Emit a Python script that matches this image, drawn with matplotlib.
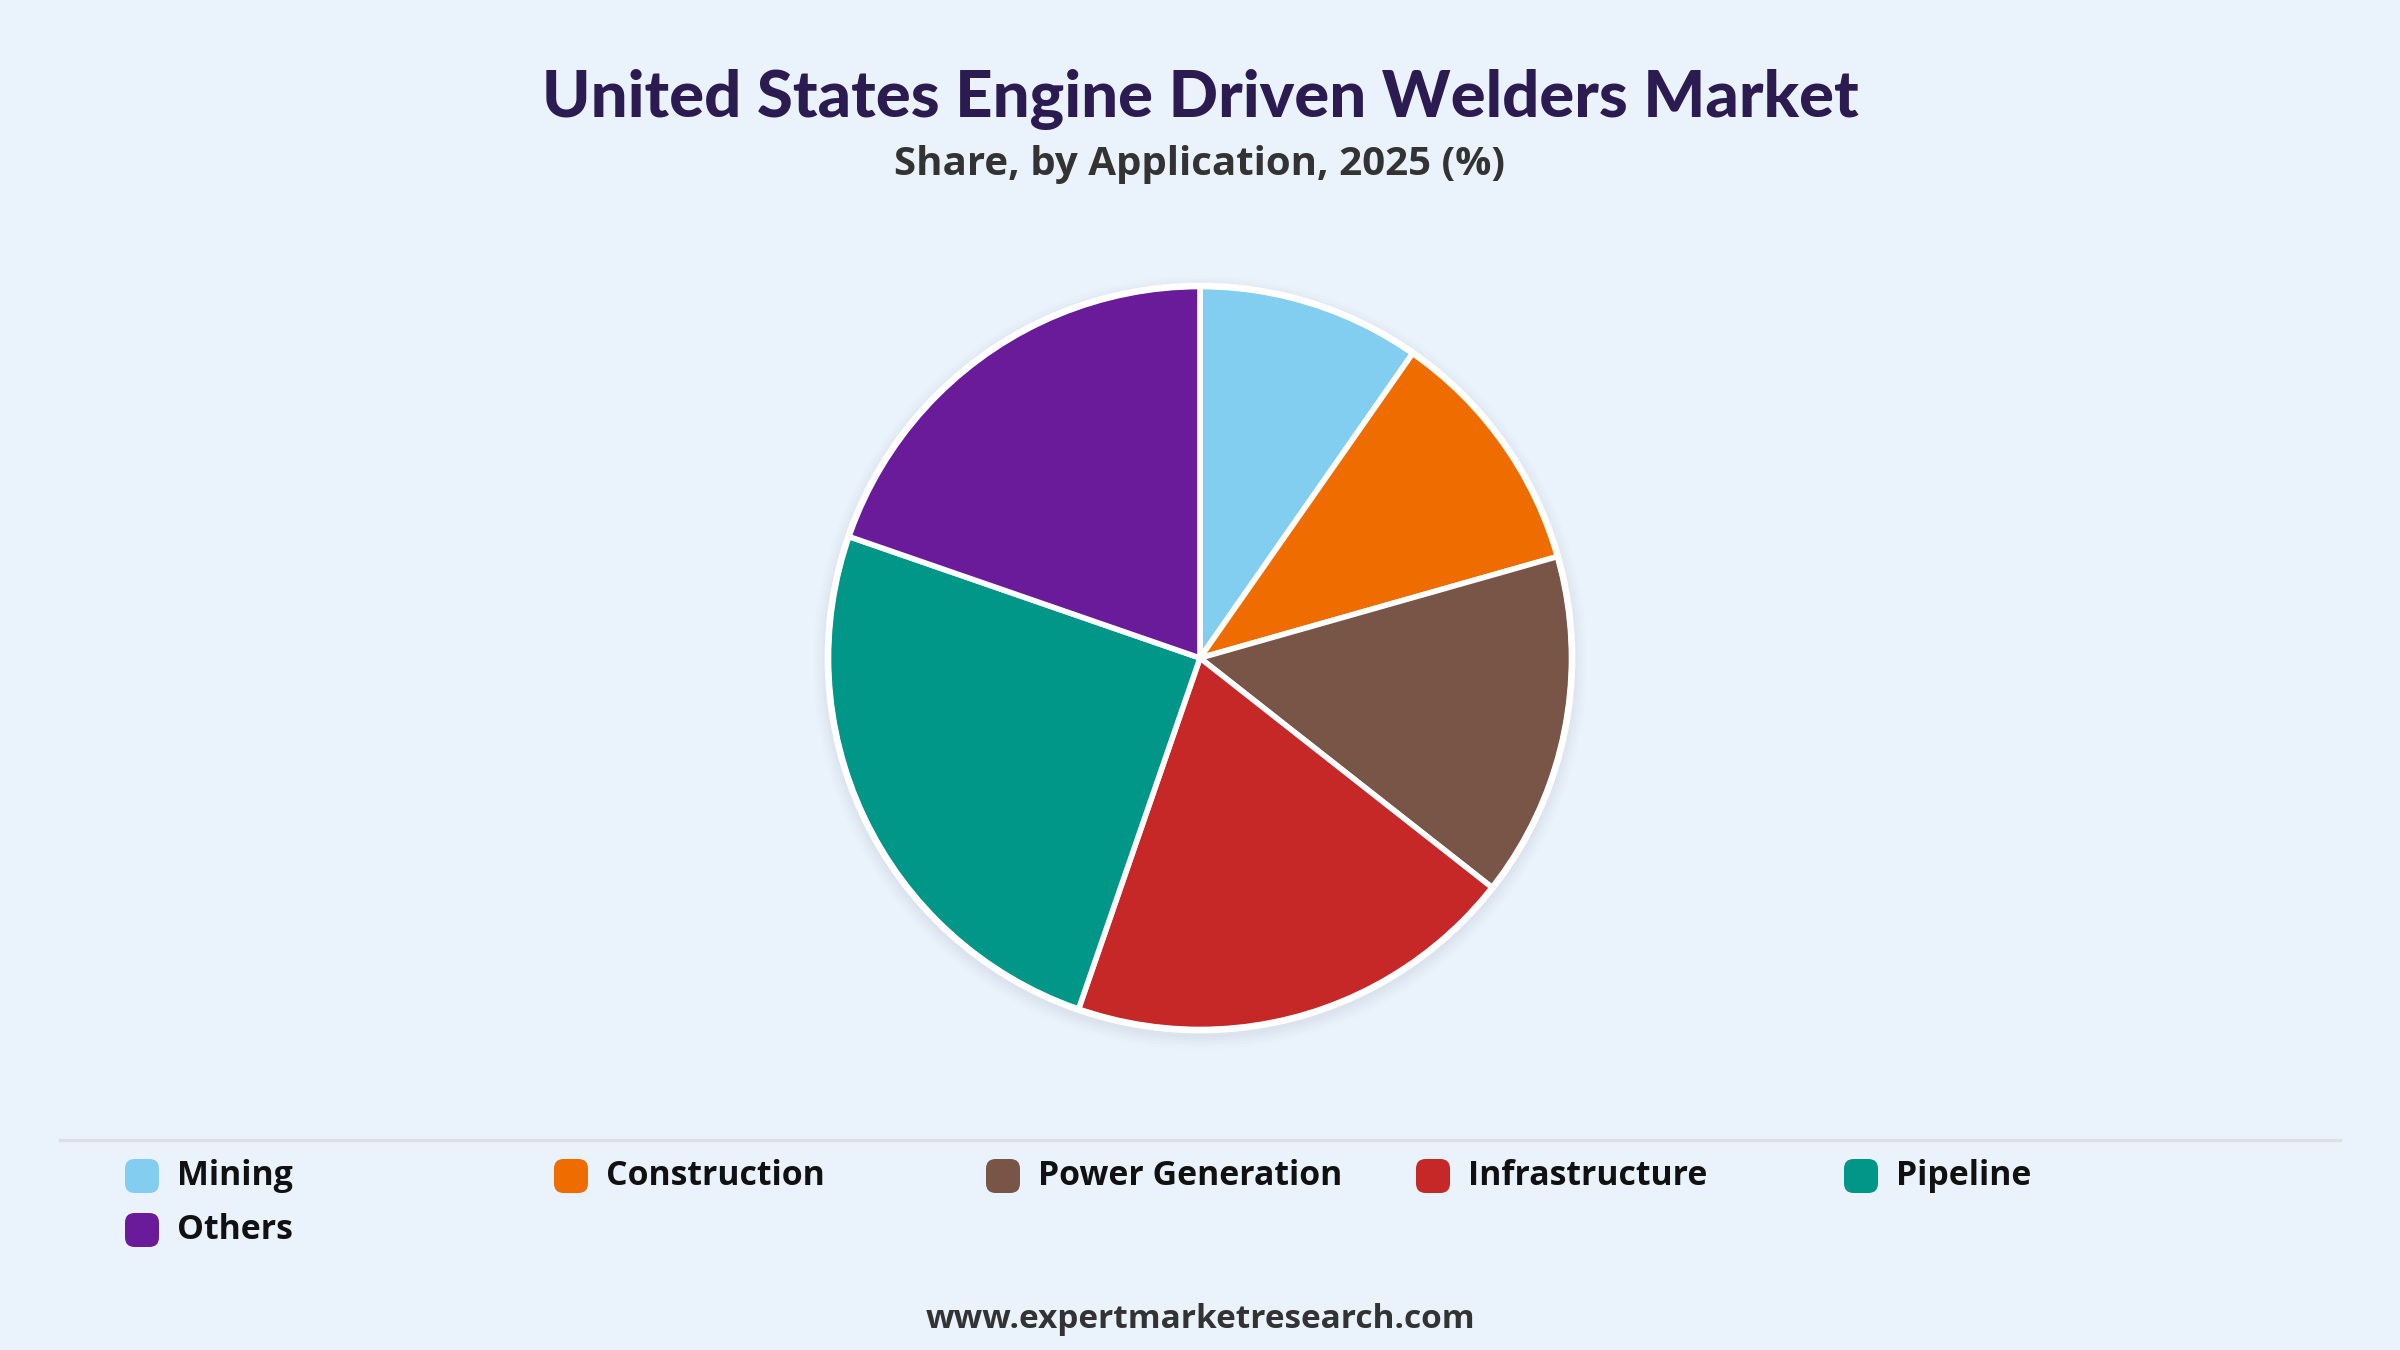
import matplotlib
matplotlib.use("Agg")
import matplotlib.pyplot as plt
from matplotlib.patches import FancyBboxPatch, Circle

plt.rcParams['font.family'] = ['Open Sans', 'DejaVu Sans']

# data (share, %)
categories = ['Mining', 'Construction', 'Power Generation', 'Infrastructure', 'Pipeline', 'Others']
shares = [9.7, 10.9, 15.0, 19.7, 25.0, 19.7]
colors = ['#81cef1', '#ef6c00', '#795548', '#c62828', '#009688', '#6a1b9a']

title = 'United States Engine Driven Welders Market'
subtitle = 'Share, by Application, 2025 (%)'
footer = 'www.expertmarketresearch.com'

bg = '#eaf2fb'
W, H = 2400, 1350
fig = plt.figure(figsize=(12, 6.75), dpi=200, facecolor=bg)

# pie axes: centre (1200, 658) px, radius 372 px
cx, cy, r = 1200, 658, 372
lim = 1.15
side = 2 * r * lim
ax = fig.add_axes([(cx - side / 2) / W, 1 - (cy + side / 2) / H, side / W, side / H])
ax.set_facecolor('none')

# soft shadow behind the pie
for i, a in enumerate([0.035, 0.03, 0.025, 0.02, 0.015]):
    ax.add_patch(Circle((0.0, -0.012), 1.0 + 0.008 * (i + 1), color='#7a8aa0', alpha=a, lw=0, zorder=0))

wedges, _ = ax.pie(shares, colors=colors, startangle=90, counterclock=False,
                   radius=1.0, wedgeprops=dict(edgecolor='white', linewidth=2.0))
for w in wedges:
    w.set_zorder(2)
ax.add_patch(Circle((0, 0), 1.0, fill=False, edgecolor='white', lw=2.4, zorder=3))
ax.set_xlim(-lim, lim)
ax.set_ylim(-lim, lim)
ax.set_aspect('equal')
ax.axis('off')

fig.text(0.5, 1 - 99 / H, title, ha='center', va='center', fontsize=23.5,
         fontweight='black', color='#2b1b50', family=['Lato', 'DejaVu Sans'])
fig.text(0.5, 1 - 164 / H, subtitle, ha='center', va='center', fontsize=14.5,
         fontweight='bold', color='#333333')

# separator line above the legend
fig.add_artist(plt.Line2D([60 / W, 2340 / W], [1 - 1140 / H, 1 - 1140 / H],
                          color='#dcdfe4', lw=1.2))

# legend, 5 columns
col_x = [125, 554, 986, 1416, 1844]
row_y = [1176, 1230]
box = 34
for i, (name, c) in enumerate(zip(categories, colors)):
    x = col_x[i % 5]
    y = row_y[i // 5]
    fig.add_artist(FancyBboxPatch(((x) / W, 1 - (y + box / 2) / H), box / W, box / H,
                                  boxstyle='round,pad=0,rounding_size=0.004',
                                  transform=fig.transFigure, facecolor=c, edgecolor='none',
                                  mutation_aspect=W / H))
    fig.text((x + 52) / W, 1 - y / H, name, ha='left', va='center', fontsize=12.2,
             fontweight='bold', color='#111111')

fig.text(0.5, 1 - 1320 / H, footer, ha='center', va='center', fontsize=12,
         fontweight='bold', color='#333333')

fig.savefig('out.png', dpi=200, facecolor=bg)
